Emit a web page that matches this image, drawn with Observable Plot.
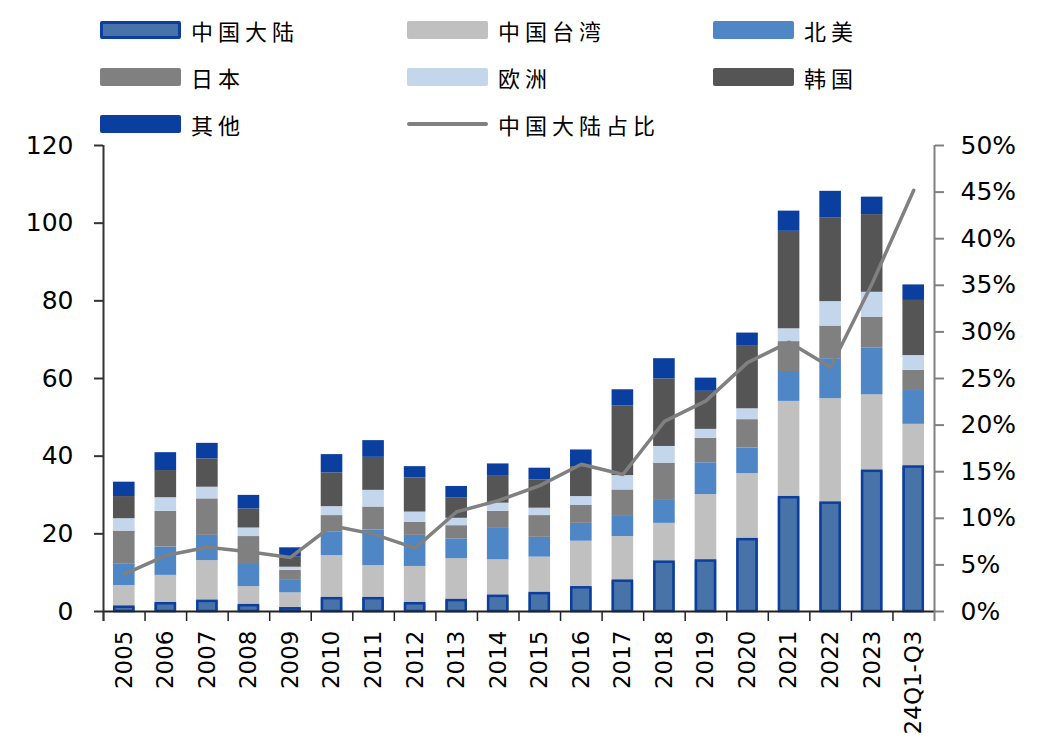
<!DOCTYPE html>
<html>
<head>
<meta charset="utf-8">
<script src="https://cdn.jsdelivr.net/npm/d3@7"></script>
<script src="https://cdn.jsdelivr.net/npm/@observablehq/plot@0.6"></script>
<style>
  body { margin: 0; background: #fff; }
  #wrap { position: relative; width: 1060px; height: 744px; }
  #legend { position: relative; width: 1060px; height: 132px;
    font-family: "Noto Sans CJK SC", sans-serif; font-size: 22px; letter-spacing: 5px; color: #000; }
  .item { position: absolute; display: flex; align-items: center; height: 30px; white-space: nowrap; }
  .sw { width: 81px; height: 18px; margin-right: 10px; box-sizing: border-box; border-radius: 2px; }
  .ln { width: 81px; height: 4px; margin-right: 10px; border-radius: 2px; }
  #chart svg { display: block; }
</style>
</head>
<body>
<div id="wrap">
  <div id="legend"></div>
  <div id="chart"></div>
</div>
<script>
// Periods on the x axis
const periods = ["2005","2006","2007","2008","2009","2010","2011","2012","2013","2014",
  "2015","2016","2017","2018","2019","2020","2021","2022","2023","24Q1-Q3"];

// Stacked series, bottom to top
const seriesNames = ["中国大陆","中国台湾","北美","日本","欧洲","韩国","其他"];
const seriesColors = ["#4873a8","#c0c0c0","#4f86c6","#808080","#c4d6ec","#555555","#0a3fa0"];

const mainland = [1.1,2.0,2.6,1.5,0.7,3.3,3.3,2.0,2.8,3.9,4.6,6.1,7.8,12.7,13.0,18.5,29.3,27.9,36.1,37.2];
const taiwan   = [5.6,7.3,10.5,4.9,4.1,11.1,8.5,9.6,10.8,9.4,9.4,12.0,11.5,10.0,17.1,17.0,24.8,26.9,19.7,11.0];
const northAm  = [5.6,7.3,6.5,5.7,3.4,6.0,9.2,8.0,5.1,8.3,5.1,4.6,5.4,5.9,8.2,6.6,7.7,10.3,12.0,8.7];
const japan    = [8.4,9.2,9.4,7.2,2.4,4.3,5.9,3.4,3.4,4.2,5.6,4.6,6.6,9.6,6.3,7.3,7.7,8.4,8.0,5.2];
const europe   = [3.2,3.5,3.0,2.2,0.8,2.3,4.3,2.6,1.9,2.1,1.9,2.3,3.7,4.3,2.3,2.8,3.3,6.3,6.4,3.8];
const korea    = [5.7,7.0,7.3,4.9,2.6,8.7,8.5,8.8,5.3,7.1,7.3,7.7,17.9,17.4,9.8,16.1,25.1,21.5,20.0,14.2];
const others   = [3.7,4.6,4.0,3.5,2.4,4.7,4.3,2.9,2.9,3.0,3.0,4.3,4.2,5.2,3.4,3.4,5.2,6.9,4.5,4.0];

// Mainland share of the total, percent (right axis)
const mainlandShare = [4.0,6.0,6.9,6.4,5.8,9.2,8.3,6.8,10.7,11.9,13.5,15.8,14.7,20.4,22.6,26.7,28.9,26.2,35.2,45.2];

// Axis ticks
const leftTicks = [0,20,40,60,80,100,120];
const rightTicks = [0,5,10,15,20,25,30,35,40,45,50];

// ---- legend ----
const legendItems = [
  {name: "中国大陆", kind: "bar", col: 0, row: 0},
  {name: "中国台湾", kind: "bar", col: 1, row: 0},
  {name: "北美", kind: "bar", col: 2, row: 0},
  {name: "日本", kind: "bar", col: 0, row: 1},
  {name: "欧洲", kind: "bar", col: 1, row: 1},
  {name: "韩国", kind: "bar", col: 2, row: 1},
  {name: "其他", kind: "bar", col: 0, row: 2},
  {name: "中国大陆占比", kind: "line", col: 1, row: 2}
];
const colX = [100, 407, 713];
const rowY = [15, 62, 109];
const legend = document.getElementById("legend");
for (const it of legendItems) {
  const div = document.createElement("div");
  div.className = "item";
  div.style.left = colX[it.col] + "px";
  div.style.top = rowY[it.row] + "px";
  const sw = document.createElement("span");
  if (it.kind === "bar") {
    sw.className = "sw";
    sw.style.background = seriesColors[seriesNames.indexOf(it.name)];
    if (it.name === "中国大陆") sw.style.border = "3px solid #0b3e9e";
  } else {
    sw.className = "ln";
    sw.style.background = "#808080";
  }
  const tx = document.createElement("span");
  tx.textContent = it.name;
  div.append(sw, tx);
  legend.append(div);
}

// ---- chart ----
const seriesValues = [mainland, taiwan, northAm, japan, europe, korea, others];
const rows = [];
periods.forEach((p, i) => {
  seriesNames.forEach((s, j) => rows.push({period: p, series: s, value: seriesValues[j][i]}));
});
const shareRows = periods.map((p, i) => ({period: p, share: mainlandShare[i]}));

const width = 1060, height = 612;
const marginLeft = 103, marginRight = 126, marginTop = 13, marginBottom = 133;
const yMax = 120, pctMax = 50;
const k = yMax / pctMax;                // percent -> left-axis units
const step = (width - marginLeft - marginRight) / periods.length;
const tickUnits = 10 * yMax / (height - marginTop - marginBottom); // 10px in y units

const font = '"DejaVu Sans", sans-serif';

const chart = Plot.plot({
  width, height, marginLeft, marginRight, marginTop, marginBottom,
  style: {fontFamily: font, fontSize: "25px", color: "#000", background: "transparent"},
  x: {domain: periods, paddingInner: 0.48, paddingOuter: 0.24, round: false, axis: null},
  y: {domain: [0, yMax], axis: null},
  color: {domain: seriesNames, range: seriesColors},
  marks: [
    Plot.barY(rows, {x: "period", y: "value", fill: "series", order: seriesNames}),
    Plot.barY(rows.filter(d => d.series === "中国大陆"),
      {x: "period", y: "value", fill: "none", stroke: "#0b3e9e", strokeWidth: 2.5, insetLeft: 1.25, insetRight: 1.25}),
    // category boundary ticks below the baseline
    Plot.ruleX(periods, {x: d => d, dx: -step / 2, y1: 0, y2: -tickUnits, stroke: "#222", strokeWidth: 1.5}),
    Plot.ruleY([0], {stroke: "#222", strokeWidth: 2}),
    // left and right axis lines
    Plot.ruleX([periods[0]], {x: d => d, dx: -step / 2, y1: -tickUnits, y2: yMax, stroke: "#333", strokeWidth: 2}),
    Plot.ruleX([periods[periods.length - 1]], {x: d => d, dx: step / 2, y1: -tickUnits, y2: yMax, stroke: "#808080", strokeWidth: 2}),
    Plot.axisY(leftTicks, {anchor: "left", tickSize: 9, tickPadding: 21, stroke: "#333", strokeWidth: 2, fill: "#000", label: null}),
    Plot.axisY(rightTicks.map(v => v * k), {anchor: "right", tickSize: 9, tickPadding: 17, stroke: "#808080", strokeWidth: 2,
      fill: "#000", tickFormat: d => Math.round(d / k) + "%", label: null}),
    Plot.axisX({tickSize: 0, tickRotate: -90, tickPadding: 19, fontSize: 23, fill: "#000", label: null}),
    Plot.line(shareRows, {x: "period", y: d => d.share * k, stroke: "#808080", strokeWidth: 3.5})
  ]
});
document.getElementById("chart").append(chart);
</script>
</body>
</html>
